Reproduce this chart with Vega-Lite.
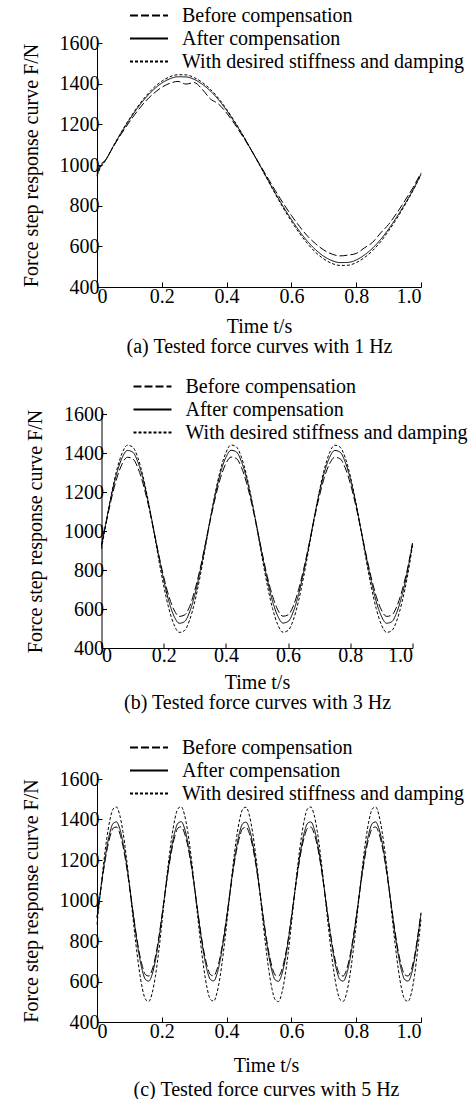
{
  "$schema": "https://vega.github.io/schema/vega-lite/v6.json",
  "background": "white",
  "padding": {"left": 20, "top": 5, "right": 0, "bottom": 0},
  "spacing": 20,
  "center": true,
  "config": {
    "font": "Liberation Serif",
    "view": {"stroke": null},
    "axis": {
      "domainColor": "black", "tickColor": "black", "labelColor": "black", "titleColor": "black",
      "labelFont": "Liberation Serif", "titleFont": "Liberation Serif",
      "labelFontSize": 20, "titleFontSize": 20, "titleFontWeight": "normal",
      "grid": false, "tickSize": -5, "domainWidth": 1, "tickWidth": 1
    },
    "legend": {
      "orient": "none", "padding": 0, "title": null,
      "labelFont": "Liberation Serif", "labelFontSize": 20, "labelColor": "black", "labelLimit": 400,
      "symbolType": "M-1,0H3", "symbolSize": 361, "symbolStrokeWidth": 2, "symbolStrokeColor": "black",
      "labelOffset": 32, "rowPadding": 2
    }
  },
  "resolve": {"scale": {"x": "independent", "y": "independent", "strokeDash": "independent"}, "legend": {"strokeDash": "independent"}},
  "vconcat": [
    {
      "width": 324, "height": 244,
      "data": {"values": [
        {"t":0,"d":945,"a":948,"b":958},{"t":0.01,"d":985,"a":990,"b":1000},{"t":0.025,"d":1019,"a":1020,"b":1022},{"t":0.05,"d":1092,"a":1091,"b":1089},
        {"t":0.075,"d":1162,"a":1159,"b":1153},{"t":0.1,"d":1227,"a":1222,"b":1212},{"t":0.125,"d":1286,"a":1280,"b":1266},
        {"t":0.15,"d":1337,"a":1330,"b":1314},{"t":0.175,"d":1380,"a":1371,"b":1352},{"t":0.2,"d":1412,"a":1403,"b":1382},
        {"t":0.225,"d":1434,"a":1424,"b":1402},{"t":0.25,"d":1444,"a":1434,"b":1411},{"t":0.275,"d":1443,"a":1433,"b":1398},
        {"t":0.3,"d":1430,"a":1421,"b":1405},{"t":0.325,"d":1406,"a":1397,"b":1372},{"t":0.35,"d":1372,"a":1364,"b":1325},
        {"t":0.375,"d":1328,"a":1321,"b":1300},{"t":0.4,"d":1274,"a":1269,"b":1256},{"t":0.425,"d":1214,"a":1210,"b":1201},
        {"t":0.45,"d":1148,"a":1146,"b":1140},{"t":0.475,"d":1077,"a":1077,"b":1076},{"t":0.5,"d":1005,"a":1006,"b":1009},
        {"t":0.525,"d":931,"a":934,"b":942},{"t":0.55,"d":858,"a":863,"b":875},{"t":0.575,"d":788,"a":795,"b":811},
        {"t":0.6,"d":723,"a":732,"b":752},{"t":0.625,"d":664,"a":674,"b":698},{"t":0.65,"d":613,"a":624,"b":650},
        {"t":0.675,"d":570,"a":583,"b":612},{"t":0.7,"d":538,"a":551,"b":582},{"t":0.725,"d":516,"a":530,"b":562},
        {"t":0.75,"d":506,"a":520,"b":553},{"t":0.775,"d":507,"a":521,"b":557},{"t":0.8,"d":520,"a":533,"b":565},
        {"t":0.825,"d":544,"a":557,"b":592},{"t":0.85,"d":578,"a":590,"b":619},{"t":0.875,"d":622,"a":633,"b":665},
        {"t":0.9,"d":676,"a":685,"b":708},{"t":0.925,"d":736,"a":744,"b":763},{"t":0.95,"d":802,"a":808,"b":824},
        {"t":0.975,"d":873,"a":877,"b":888},{"t":1,"d":952,"a":955,"b":962}
      ]},
      "transform": [{"fold": ["b", "a", "d"], "as": ["series", "F"]}],
      "resolve": {"axis": {"y": "independent"}},
      "layer": [
        {
          "mark": {"type": "line", "interpolate": "monotone", "strokeWidth": 1, "color": "black"},
          "encoding": {
            "x": {"field": "t", "type": "quantitative", "scale": {"domain": [0, 1], "nice": false},
              "axis": {"values": [0, 0.2, 0.4, 0.6, 0.8, 1], "labelExpr": "datum.value == 0 ? '0' : format(datum.value, '.1f')", "labelPadding": 4,
                "title": ["Time t/s", "(a) Tested force curves with 1 Hz"], "titleLineHeight": 20, "titlePadding": 10}},
            "y": {"field": "F", "type": "quantitative", "scale": {"domain": [400, 1600], "nice": false, "zero": false},
              "axis": {"values": [400, 600, 800, 1000, 1200, 1400, 1600], "format": "d", "labelPadding": 3, "title": "Force step response curve F/N", "titlePadding": 18}},
            "strokeDash": {"field": "series", "type": "nominal", "scale": {"domain": ["b", "a", "d"], "range": [[8, 3], [1, 0], [3, 2]]},
              "legend": {"legendX": 32, "legendY": -38,
                "labelExpr": "datum.value == 'b' ? 'Before compensation' : datum.value == 'a' ? 'After compensation' : 'With desired stiffness and damping'",
                "encode": {"symbols": {"update": {"strokeDash": {"signal": "datum.value == 'b' ? [14, 8] : datum.value == 'd' ? [3, 2] : [1, 0]"}}}}}}
          }
        },
        {
          "mark": {"type": "line", "opacity": 0},
          "encoding": {
            "x": {"field": "t", "type": "quantitative"},
            "y": {"field": "F", "type": "quantitative", "axis": {"orient": "right", "offset": 52, "labels": false, "ticks": false, "title": null, "domainOpacity": 0}},
            "detail": {"field": "series", "type": "nominal"}
          }
        }
      ]
    },
    {
      "width": 311, "height": 234,
      "data": {"values": [
        {"t":0,"d":909,"a":923,"b":927},{"t":0.0167,"d":1060,"a":1063,"b":1055},{"t":0.0333,"d":1201,"a":1193,"b":1175},{"t":0.05,"d":1318,"a":1301,"b":1275},
        {"t":0.0667,"d":1401,"a":1377,"b":1345},{"t":0.0833,"d":1440,"a":1413,"b":1378},{"t":0.1,"d":1431,"a":1405,"b":1371},{"t":0.1167,"d":1377,"a":1355,"b":1325},
        {"t":0.1333,"d":1282,"a":1268,"b":1244},{"t":0.15,"d":1156,"a":1151,"b":1137},{"t":0.1667,"d":1011,"a":1017,"b":1013},{"t":0.1833,"d":860,"a":877,"b":885},
        {"t":0.2,"d":719,"a":748,"b":765},{"t":0.2167,"d":602,"a":639,"b":665},{"t":0.2333,"d":519,"a":563,"b":595},{"t":0.25,"d":480,"a":527,"b":562},
        {"t":0.2667,"d":489,"a":535,"b":569},{"t":0.2833,"d":543,"a":585,"b":612},{"t":0.3,"d":638,"a":672,"b":696},{"t":0.3167,"d":764,"a":789,"b":803},
        {"t":0.3333,"d":910,"a":924,"b":928},{"t":0.35,"d":1061,"a":1064,"b":1056},{"t":0.3667,"d":1202,"a":1194,"b":1176},{"t":0.3833,"d":1319,"a":1302,"b":1276},
        {"t":0.4,"d":1402,"a":1378,"b":1346},{"t":0.4167,"d":1441,"a":1414,"b":1379},{"t":0.4333,"d":1432,"a":1406,"b":1372},{"t":0.45,"d":1378,"a":1356,"b":1326},
        {"t":0.4667,"d":1283,"a":1269,"b":1245},{"t":0.4833,"d":1157,"a":1152,"b":1138},{"t":0.5,"d":1012,"a":1018,"b":1014},{"t":0.5167,"d":861,"a":878,"b":886},
        {"t":0.5333,"d":720,"a":749,"b":766},{"t":0.55,"d":603,"a":640,"b":666},{"t":0.5667,"d":520,"a":564,"b":596},{"t":0.5833,"d":481,"a":528,"b":563},
        {"t":0.6,"d":490,"a":536,"b":570},{"t":0.6167,"d":544,"a":586,"b":615},{"t":0.6333,"d":639,"a":673,"b":697},{"t":0.65,"d":765,"a":790,"b":804},
        {"t":0.6667,"d":909,"a":923,"b":927},{"t":0.6833,"d":1060,"a":1063,"b":1055},{"t":0.7,"d":1201,"a":1193,"b":1175},{"t":0.7167,"d":1318,"a":1301,"b":1275},
        {"t":0.7333,"d":1401,"a":1377,"b":1345},{"t":0.75,"d":1440,"a":1413,"b":1378},{"t":0.7667,"d":1431,"a":1405,"b":1371},{"t":0.7833,"d":1377,"a":1355,"b":1325},
        {"t":0.8,"d":1282,"a":1268,"b":1244},{"t":0.8167,"d":1156,"a":1151,"b":1137},{"t":0.8333,"d":1011,"a":1017,"b":1013},{"t":0.85,"d":860,"a":877,"b":885},
        {"t":0.8667,"d":719,"a":748,"b":765},{"t":0.8833,"d":602,"a":639,"b":665},{"t":0.9,"d":519,"a":563,"b":595},{"t":0.9167,"d":480,"a":527,"b":562},
        {"t":0.9333,"d":489,"a":535,"b":569},{"t":0.95,"d":543,"a":585,"b":615},{"t":0.9667,"d":638,"a":672,"b":696},{"t":0.9833,"d":764,"a":789,"b":803},
        {"t":1,"d":925,"a":935,"b":938}
      ]},
      "transform": [{"fold": ["b", "a", "d"], "as": ["series", "F"]}],
      "mark": {"type": "line", "interpolate": "monotone", "strokeWidth": 1, "color": "black"},
      "encoding": {
        "x": {"field": "t", "type": "quantitative", "scale": {"domain": [0, 1], "nice": false},
          "axis": {"values": [0, 0.2, 0.4, 0.6, 0.8, 1], "labelExpr": "datum.value == 0 ? '0' : format(datum.value, '.1f')", "labelPadding": 2,
            "title": ["Time t/s", "(b) Tested force curves with 3 Hz"], "titleLineHeight": 20, "titlePadding": 7}},
        "y": {"field": "F", "type": "quantitative", "scale": {"domain": [400, 1600], "nice": false, "zero": false},
          "axis": {"values": [400, 600, 800, 1000, 1200, 1400, 1600], "format": "d", "labelPadding": 3, "title": "Force step response curve F/N", "titlePadding": 18}},
        "strokeDash": {"field": "series", "type": "nominal", "scale": {"domain": ["b", "a", "d"], "range": [[8, 3], [1, 0], [3, 2]]},
          "legend": {"legendX": 31, "legendY": -38,
            "labelExpr": "datum.value == 'b' ? 'Before compensation' : datum.value == 'a' ? 'After compensation' : 'With desired stiffness and damping'",
            "encode": {"symbols": {"update": {"strokeDash": {"signal": "datum.value == 'b' ? [14, 8] : datum.value == 'd' ? [3, 2] : [1, 0]"}}}}}}
      }
    },
    {
      "width": 324, "height": 243,
      "data": {"values": [
        {"t":0,"d":882,"a":913,"b":918},{"t":0.01,"d":1033,"a":1036,"b":1034},{"t":0.02,"d":1178,"a":1156,"b":1146},{"t":0.03,"d":1304,"a":1259,"b":1243},
        {"t":0.04,"d":1399,"a":1337,"b":1315},{"t":0.05,"d":1453,"a":1381,"b":1357},{"t":0.06,"d":1462,"a":1388,"b":1363},{"t":0.07,"d":1423,"a":1356,"b":1333},
        {"t":0.08,"d":1340,"a":1288,"b":1270},{"t":0.09,"d":1223,"a":1193,"b":1180},{"t":0.1,"d":1082,"a":1077,"b":1072},{"t":0.11,"d":931,"a":954,"b":956},
        {"t":0.12,"d":786,"a":834,"b":844},{"t":0.13,"d":660,"a":731,"b":747},{"t":0.14,"d":565,"a":653,"b":675},{"t":0.15,"d":511,"a":609,"b":633},
        {"t":0.16,"d":502,"a":602,"b":627},{"t":0.17,"d":541,"a":634,"b":657},{"t":0.18,"d":624,"a":702,"b":720},{"t":0.19,"d":741,"a":798,"b":810},
        {"t":0.2,"d":884,"a":915,"b":920},{"t":0.21,"d":1035,"a":1038,"b":1036},{"t":0.22,"d":1180,"a":1158,"b":1148},{"t":0.23,"d":1305,"a":1260,"b":1244},
        {"t":0.24,"d":1400,"a":1338,"b":1316},{"t":0.25,"d":1454,"a":1382,"b":1358},{"t":0.26,"d":1463,"a":1389,"b":1364},{"t":0.27,"d":1424,"a":1357,"b":1333},
        {"t":0.28,"d":1341,"a":1289,"b":1271},{"t":0.29,"d":1224,"a":1194,"b":1181},{"t":0.3,"d":1083,"a":1078,"b":1073},{"t":0.31,"d":932,"a":955,"b":957},
        {"t":0.32,"d":787,"a":835,"b":845},{"t":0.33,"d":661,"a":732,"b":748},{"t":0.34,"d":566,"a":654,"b":676},{"t":0.35,"d":512,"a":610,"b":634},
        {"t":0.36,"d":503,"a":603,"b":628},{"t":0.37,"d":542,"a":635,"b":658},{"t":0.38,"d":625,"a":703,"b":721},{"t":0.39,"d":742,"a":799,"b":811},
        {"t":0.4,"d":881,"a":912,"b":917},{"t":0.41,"d":1032,"a":1035,"b":1033},{"t":0.42,"d":1177,"a":1155,"b":1145},{"t":0.43,"d":1303,"a":1258,"b":1242},
        {"t":0.44,"d":1398,"a":1336,"b":1314},{"t":0.45,"d":1452,"a":1380,"b":1356},{"t":0.46,"d":1461,"a":1387,"b":1362},{"t":0.47,"d":1422,"a":1355,"b":1332},
        {"t":0.48,"d":1339,"a":1287,"b":1269},{"t":0.49,"d":1222,"a":1192,"b":1179},{"t":0.5,"d":1081,"a":1076,"b":1071},{"t":0.51,"d":930,"a":953,"b":955},
        {"t":0.52,"d":785,"a":833,"b":843},{"t":0.53,"d":659,"a":730,"b":746},{"t":0.54,"d":564,"a":652,"b":674},{"t":0.55,"d":510,"a":608,"b":632},
        {"t":0.56,"d":501,"a":601,"b":626},{"t":0.57,"d":540,"a":633,"b":656},{"t":0.58,"d":623,"a":701,"b":719},{"t":0.59,"d":740,"a":797,"b":809},
        {"t":0.6,"d":883,"a":914,"b":919},{"t":0.61,"d":1034,"a":1037,"b":1035},{"t":0.62,"d":1179,"a":1157,"b":1147},{"t":0.63,"d":1304,"a":1259,"b":1243},
        {"t":0.64,"d":1399,"a":1337,"b":1315},{"t":0.65,"d":1453,"a":1381,"b":1357},{"t":0.66,"d":1462,"a":1388,"b":1363},{"t":0.67,"d":1423,"a":1356,"b":1332},
        {"t":0.68,"d":1340,"a":1288,"b":1270},{"t":0.69,"d":1223,"a":1193,"b":1180},{"t":0.7,"d":1082,"a":1077,"b":1072},{"t":0.71,"d":931,"a":954,"b":956},
        {"t":0.72,"d":786,"a":834,"b":844},{"t":0.73,"d":660,"a":731,"b":747},{"t":0.74,"d":565,"a":653,"b":675},{"t":0.75,"d":511,"a":609,"b":633},
        {"t":0.76,"d":502,"a":602,"b":627},{"t":0.77,"d":541,"a":634,"b":657},{"t":0.78,"d":624,"a":702,"b":720},{"t":0.79,"d":741,"a":798,"b":810},
        {"t":0.8,"d":882,"a":913,"b":918},{"t":0.81,"d":1033,"a":1036,"b":1034},{"t":0.82,"d":1178,"a":1156,"b":1146},{"t":0.83,"d":1304,"a":1259,"b":1243},
        {"t":0.84,"d":1399,"a":1337,"b":1315},{"t":0.85,"d":1453,"a":1381,"b":1357},{"t":0.86,"d":1462,"a":1388,"b":1363},{"t":0.87,"d":1423,"a":1356,"b":1333},
        {"t":0.88,"d":1340,"a":1288,"b":1270},{"t":0.89,"d":1223,"a":1193,"b":1180},{"t":0.9,"d":1082,"a":1077,"b":1072},{"t":0.91,"d":931,"a":954,"b":956},
        {"t":0.92,"d":786,"a":834,"b":844},{"t":0.93,"d":660,"a":731,"b":747},{"t":0.94,"d":565,"a":653,"b":675},{"t":0.95,"d":511,"a":609,"b":633},
        {"t":0.96,"d":502,"a":602,"b":627},{"t":0.97,"d":541,"a":634,"b":657},{"t":0.98,"d":630,"a":710,"b":725},{"t":0.99,"d":760,"a":815,"b":825},
        {"t":1,"d":905,"a":935,"b":940}
      ]},
      "transform": [{"fold": ["b", "a", "d"], "as": ["series", "F"]}],
      "resolve": {"axis": {"y": "independent"}},
      "layer": [
        {
          "mark": {"type": "line", "interpolate": "monotone", "strokeWidth": 1, "color": "black"},
          "encoding": {
            "x": {"field": "t", "type": "quantitative", "scale": {"domain": [0, 1], "nice": false},
              "axis": {"values": [0, 0.2, 0.4, 0.6, 0.8, 1], "labelExpr": "datum.value == 0 ? '0' : format(datum.value, '.1f')", "labelPadding": 4,
                "title": ["Time t/s", "(c) Tested force curves with 5 Hz"], "titleLineHeight": 24, "titlePadding": 14, "titleX": 169}},
            "y": {"field": "F", "type": "quantitative", "scale": {"domain": [400, 1600], "nice": false, "zero": false},
              "axis": {"values": [400, 600, 800, 1000, 1200, 1400, 1600], "format": "d", "labelPadding": 3, "title": "Force step response curve F/N", "titlePadding": 18}},
            "strokeDash": {"field": "series", "type": "nominal", "scale": {"domain": ["b", "a", "d"], "range": [[8, 3], [1, 0], [3, 2]]},
              "legend": {"legendX": 27, "legendY": -47, "padding": 5,
                "labelExpr": "datum.value == 'b' ? 'Before compensation' : datum.value == 'a' ? 'After compensation' : 'With desired stiffness and damping'",
                "encode": {"symbols": {"update": {"strokeDash": {"signal": "datum.value == 'b' ? [14, 8] : datum.value == 'd' ? [3, 2] : [1, 0]"}}}}}}
          }
        },
        {
          "mark": {"type": "line", "opacity": 0},
          "encoding": {
            "x": {"field": "t", "type": "quantitative"},
            "y": {"field": "F", "type": "quantitative", "axis": {"orient": "right", "offset": 52, "labels": false, "ticks": false, "title": null, "domainOpacity": 0}},
            "detail": {"field": "series", "type": "nominal"}
          }
        }
      ]
    }
  ]
}
